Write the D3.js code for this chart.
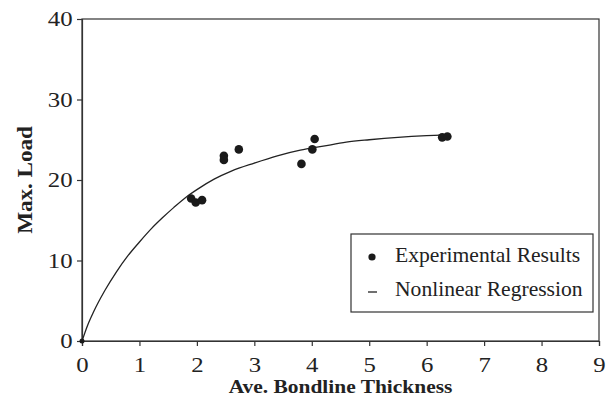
<!DOCTYPE html>
<html>
<head>
<meta charset="utf-8">
<script src="https://cdn.jsdelivr.net/npm/d3@7"></script>
<style>
  body { margin: 0; background: #fff; }
  text { font-family: "Liberation Serif", "Times New Roman", serif; fill: #222; }
</style>
</head>
<body>
<div id="chart"></div>
<script>
// measured points
var thickness = [0, 1.90, 1.98, 2.09, 2.47, 2.47, 2.73, 3.82, 4.01, 4.05, 6.27, 6.36];
var maxLoad   = [0, 17.7, 17.2, 17.5, 23.0, 22.5, 23.8, 22.0, 23.8, 25.1, 25.3, 25.4];

// regression curve
var fitX = [0, 0.1, 0.2, 0.4, 0.6, 0.8, 1.0, 1.2, 1.4, 1.6, 1.8, 2.0, 2.3, 2.6, 3.0, 3.4, 3.8, 4.2, 4.6, 5.0, 5.5, 6.0, 6.4];
var fitY = [0, 2.0, 3.6, 6.3, 8.6, 10.6, 12.3, 13.9, 15.3, 16.6, 17.8, 18.8, 20.1, 21.1, 22.1, 23.0, 23.7, 24.2, 24.7, 25.0, 25.3, 25.5, 25.6];

var xTicks = [0, 1, 2, 3, 4, 5, 6, 7, 8, 9];
var yTicks = [0, 10, 20, 30, 40];
var legendLabels = ["Experimental Results", "Nonlinear Regression"];

var width = 608, height = 402;
var margin = {left: 82, top: 19, right: 9, bottom: 61};

var svg = d3.select("#chart").append("svg")
    .attr("width", width)
    .attr("height", height);

var x = d3.scaleLinear().domain([0, 9]).range([margin.left, width - margin.right]);
var y = d3.scaleLinear().domain([0, 40]).range([height - margin.bottom, margin.top]);

// frame
svg.append("rect")
    .attr("x", x(0)).attr("y", y(40))
    .attr("width", x(9) - x(0)).attr("height", y(0) - y(40))
    .attr("fill", "none").attr("stroke", "#333").attr("stroke-width", 1.2);

var xAxis = svg.append("g")
    .attr("transform", "translate(0," + y(0) + ")")
    .call(d3.axisBottom(x).tickValues(xTicks).tickSize(5).tickPadding(11).tickFormat(d3.format("d")));
var yAxis = svg.append("g")
    .attr("transform", "translate(" + x(0) + ",0)")
    .call(d3.axisLeft(y).tickValues(yTicks).tickSize(5).tickPadding(3).tickFormat(d3.format("d")));

[xAxis, yAxis].forEach(function(g) {
  g.select(".domain").attr("stroke", "#333").attr("stroke-width", 1.2);
  g.selectAll(".tick line").attr("stroke", "#333").attr("stroke-width", 1.2);
  g.selectAll(".tick text").attr("font-size", "21px").attr("fill", "#222")
    .attr("font-family", "Liberation Serif, serif")
    .attr("transform", "scale(1.18,1)");
});

// regression line
var line = d3.line()
    .x(function(d, i) { return x(fitX[i]); })
    .y(function(d, i) { return y(fitY[i]); })
    .curve(d3.curveMonotoneX);

svg.append("path")
    .datum(fitX)
    .attr("d", line)
    .attr("fill", "none")
    .attr("stroke", "#222")
    .attr("stroke-width", 1.3);

// points
svg.selectAll(".pt")
    .data(thickness)
    .enter().append("circle")
    .attr("class", "pt")
    .attr("cx", function(d) { return x(d); })
    .attr("cy", function(d, i) { return y(maxLoad[i]); })
    .attr("r", function(d, i) { return i === 0 ? 2.5 : 4.3; })
    .attr("fill", "#1a1a1a");

// legend
var lg = svg.append("g");
lg.append("rect")
    .attr("x", 351).attr("y", 234).attr("width", 242).attr("height", 78)
    .attr("fill", "#fff").attr("stroke", "#333").attr("stroke-width", 1.2);
lg.append("circle").attr("cx", 372).attr("cy", 257).attr("r", 3.6).attr("fill", "#1a1a1a");
lg.append("line").attr("x1", 368).attr("x2", 377).attr("y1", 292).attr("y2", 292)
    .attr("stroke", "#222").attr("stroke-width", 1.3);
lg.selectAll(".lt")
    .data(legendLabels)
    .enter().append("text")
    .attr("transform", function(d, i) { return "translate(395," + (262 + i * 34) + ") scale(1.08,1)"; })
    .attr("font-size", "20px")
    .text(function(d) { return d; });

// axis titles
svg.append("text")
    .attr("transform", "translate(" + (x(0) + x(9)) / 2 + ",393) scale(1.1,1)")
    .attr("text-anchor", "middle")
    .attr("font-size", "19.5px")
    .attr("font-weight", "bold")
    .text("Ave. Bondline Thickness");

svg.append("text")
    .attr("transform", "translate(32," + (y(20)) + ") rotate(-90) scale(1.1,1)")
    .attr("text-anchor", "middle")
    .attr("font-size", "21px")
    .attr("font-weight", "bold")
    .text("Max. Load");
</script>
</body>
</html>
